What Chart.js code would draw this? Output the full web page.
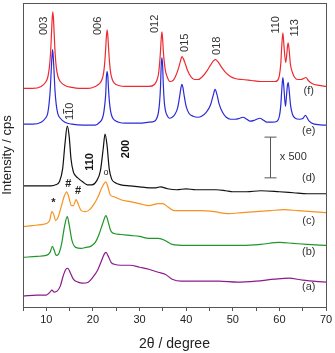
<!DOCTYPE html>
<html>
<head>
<meta charset="utf-8">
<script src="https://cdn.jsdelivr.net/npm/chart.js@4/dist/chart.umd.min.js"></script>
<style>
  html, body { margin: 0; padding: 0; background: #fff; }
  #wrap { width: 335px; height: 353px; position: relative; }
</style>
</head>
<body>
<div id="wrap"><canvas id="xrd"></canvas></div>
<script>
// XRD patterns, stacked with offsets (intensity in arbitrary cps units)

// (f) red
const theta_f = [5,7,8.9,9.8,10.3,10.65,10.9,11.1,11.25,11.4,11.55,11.7,11.9,12.15,12.5,13.0,14,15.5,17,19,20.5,21.45,21.95,22.3,22.55,22.75,22.9,23.05,23.2,23.35,23.55,23.8,24.15,24.65,25.5,27,30,32,33.2,33.7,34.05,34.3,34.5,34.65,34.8,34.95,35.1,35.3,35.55,35.9,36.5,37.2,37.8,38.4,38.8,39.1,39.4,39.8,40.3,41,41.8,42.6,43.5,44.5,45.3,45.9,46.3,46.8,47.5,48.5,49.5,50.5,52,54,56,57.5,59,59.6,60.0,60.3,60.5,60.75,60.95,61.35,61.6,61.85,62.05,62.35,62.8,63.3,63.9,64.6,65.2,65.7,66.2,67,68.5,70];
const int_f   = [220,220,222,226,231,241,255,274,289,297,289,274,255,241,232,227,223,221,220,220,222,225,229,236,247,261,273,279,273,261,247,236,229,225,223,222,222,222,224,228,234,245,258,270,277,270,258,247,238,232,227,228,233,241,248,252,250,245,238,232,229,229,232,238,244,248,249,247,242,236,232,230,229,228,227,227,227,228,233,245,262,276,265,246,255,266,261,245,236,231,229,229,230,231,228,225,223,222];

// (e) blue
const theta_e = [5,7,8.9,9.8,10.3,10.6,10.85,11.05,11.2,11.35,11.5,11.65,11.85,12.1,12.45,13,14,15.5,18,20.5,21.45,21.95,22.3,22.55,22.75,22.9,23.05,23.2,23.35,23.55,23.8,24.15,24.65,25.5,27,30,32,33.2,33.7,34.05,34.3,34.5,34.65,34.8,34.95,35.1,35.3,35.55,35.9,36.4,37.0,37.6,38.2,38.6,38.9,39.1,39.3,39.6,40.0,40.6,41.5,42.5,43.3,44.3,45.2,45.8,46.2,46.6,47.1,47.8,48.6,49.5,50.5,51.5,52.2,53.0,53.7,54.7,55.8,56.6,57.3,58.5,59.5,60.0,60.3,60.5,60.75,60.95,61.3,61.55,61.75,61.9,62.1,62.4,62.8,63.4,64.3,65.1,65.6,65.9,66.4,67.5,70];
const int_e   = [184,184,186,190,195,205,219,238,251,259,251,238,219,205,195,190,186,184,183,183,186,189,195,204,215,232,237,232,219,206,197,191,188,186,185,185,186,187,190,196,206,222,243,251,243,224,207,198,193,190,191,194,201,212,221,224,221,212,202,195,192,191,192,196,203,213,219,214,204,196,191,189,189,190,191,189,187,188,190,188,186,186,187,192,203,218,231,222,202,214,224,226,218,203,194,190,189,190,193,191,187,184,183];

// (d) black
const theta_d = [5,8,11,12,12.8,13.5,14.0,14.5,14.9,15.3,15.8,16.3,17.0,17.8,18.8,19.8,20.8,21.6,22.2,22.6,23.0,23.5,24.0,24.8,26,28,30,32,33.5,34.5,36,38,40,42,44,46.5,48.5,50,53,56,60,63,66,70];
const int_d   = [122,122,122,123,126,139,164,182,172,149,136,132,129,126,123,123,127,137,159,174,164,139,129,125,123,122,121,120,120,121,119,118,119,118,118,118,117,116,116,117,116,115,114,114];

// (c) orange
const theta_c = [5,7,9,10,10.7,11.2,11.6,12.0,12.5,13.2,13.8,14.4,14.8,15.4,15.8,16.4,16.8,17.5,18.4,19.3,20.3,21.2,22,22.8,23.2,23.7,24.5,26,28,30,32,34,35,36,37.5,40,43,46,49,52,55,58,61,64,67,70];
const int_c   = [81,82,83,84,87,96,93,87,90,101,111,116,111,102,102,108,104,97,96,98,104,112,121,126,121,113,111,108,106,104,102,104,104,101,97,97,97,96,94,95,96,97,98,97,96,95];

// (b) green
const theta_b = [5,8,10,10.8,11.3,11.7,12.1,12.6,13.3,13.9,14.5,14.9,15.5,16.3,17.5,18.5,19.5,20.5,21.3,22.1,22.8,23.2,23.8,24.5,26,28,30,32,34,35.5,37,40,44,48,52,56,60,63,66,70];
const int_b   = [50,51,52,55,61,57,52,53,64,81,91,83,67,60,59,60,61,65,73,84,92,87,77,74,73,72,71,69,69,67,63,62,62,62,62,63,65,64,63,62];

// (a) purple
const theta_a = [5,8,10,10.8,11.2,11.7,12.3,13.0,13.6,14.2,14.6,15.1,15.8,16.8,17.8,19,20,21,21.8,22.4,22.8,23.3,23.9,24.6,26,28,30,32,34,35.5,37,39,43,47,51,55,59,62,65,70];
const int_a   = [11,12,12,15,17,15,16,21,31,38,39,35,28,25,24,25,30,37,46,53,55,51,45,43,42,42,40,38,35,33,28,26,26,26,25,26,28,29,27,25];

const xTicks = [10, 20, 30, 40, 50, 60, 70];

// peak labels: [text, 2theta, intensity, bold, barOverMiddle]
const hklLabels = [
  ['003', 9.6, 283, false, false],
  ['006', 21.1, 283, false, false],
  ['012', 33.3, 285, false, false],
  ['015', 39.8, 266, false, false],
  ['018', 46.6, 263, false, false],
  ['110', 59.3, 284, false, false],
  ['113', 63.3, 281, false, false],
  ['110', 15.1, 197, false, true],
  ['110', 19.4, 146, true, false],
  ['200', 27.1, 159, true, false],
];
// phase markers: [symbol, 2theta, intensity]
const markers = [
  ['*', 11.5, 105],
  ['#', 14.7, 124],
  ['#', 16.8, 117],
  ['o', 22.8, 135],
];
const traceNames = ['(f)', '(e)', '(d)', '(c)', '(b)', '(a)'];
const traceNamePos = [217, 177, 130, 87, 55, 20];

function pts(xs, ys) {
  return xs.map((x, i) => ({ x: x, y: ys[i] }));
}

function series(xs, ys, color) {
  return {
    data: pts(xs, ys),
    borderColor: color,
    borderWidth: 1.2,
    pointRadius: 0,
    fill: false,
    cubicInterpolationMode: 'monotone',
  };
}

const FONT = '"Liberation Sans", Arial, sans-serif';

const annotate = {
  id: 'annotate',
  afterDraw(chart) {
    const { ctx, chartArea: a, scales: { x, y } } = chart;
    ctx.save();
    // frame
    ctx.strokeStyle = '#555';
    ctx.lineWidth = 1;
    ctx.strokeRect(a.left + 0.5, a.top + 0.5, a.right - a.left, a.bottom - a.top);

    // hkl labels, rotated
    for (const [t, tx, ty, bold, bar] of hklLabels) {
      ctx.save();
      ctx.translate(x.getPixelForValue(tx), y.getPixelForValue(ty));
      ctx.rotate(-Math.PI / 2);
      ctx.font = (bold ? 'bold ' : '') + '11px ' + FONT;
      ctx.fillStyle = bold ? '#111' : '#333';
      ctx.textAlign = 'center';
      ctx.textBaseline = 'middle';
      ctx.fillText(t, 0, 0);
      if (bar) {
        const w = ctx.measureText(t).width / 3;
        ctx.strokeStyle = '#333';
        ctx.beginPath();
        ctx.moveTo(-w / 2 + 0.5, -6.5);
        ctx.lineTo(w / 2 - 0.5, -6.5);
        ctx.stroke();
      }
      ctx.restore();
    }

    // markers
    ctx.fillStyle = '#222';
    ctx.textAlign = 'center';
    ctx.textBaseline = 'middle';
    for (const [s, mx, my] of markers) {
      ctx.font = (s === 'o' ? '9px ' : 'bold 11px ') + FONT;
      ctx.fillText(s, x.getPixelForValue(mx), y.getPixelForValue(my));
    }

    // trace names
    ctx.font = '11px ' + FONT;
    ctx.fillStyle = '#333';
    traceNames.forEach((n, i) => {
      ctx.fillText(n, x.getPixelForValue(66.3), y.getPixelForValue(traceNamePos[i]));
    });

    // x 500 scale bar
    const bx = Math.round(x.getPixelForValue(58.0)) + 0.5;
    const b1 = y.getPixelForValue(171), b2 = y.getPixelForValue(130);
    ctx.strokeStyle = '#555';
    ctx.beginPath();
    ctx.moveTo(bx, b1); ctx.lineTo(bx, b2);
    ctx.moveTo(bx - 6, b1); ctx.lineTo(bx + 6, b1);
    ctx.moveTo(bx - 6, b2); ctx.lineTo(bx + 6, b2);
    ctx.stroke();
    ctx.textAlign = 'left';
    ctx.font = '11px ' + FONT;
    ctx.fillText('x 500', x.getPixelForValue(60.1), y.getPixelForValue(151));

    // y title
    ctx.save();
    ctx.translate(7, (a.top + a.bottom) / 2);
    ctx.rotate(-Math.PI / 2);
    ctx.font = '13px ' + FONT;
    ctx.fillStyle = '#222';
    ctx.textAlign = 'center';
    ctx.textBaseline = 'middle';
    ctx.fillText('Intensity / cps', 0, 0);
    ctx.restore();

    ctx.restore();
  },
};

new Chart(document.getElementById('xrd'), {
  type: 'line',
  data: {
    datasets: [
      series(theta_f, int_f, '#ee2a2e'),
      series(theta_e, int_e, '#2a2ad8'),
      series(theta_d, int_d, '#111111'),
      series(theta_c, int_c, '#f7911f'),
      series(theta_b, int_b, '#1e9628'),
      series(theta_a, int_a, '#8c1a8c'),
    ],
  },
  options: {
    responsive: true,
    maintainAspectRatio: false,
    animation: false,
    layout: { padding: { left: 23, right: 9, top: 3, bottom: 0 } },
    plugins: { legend: { display: false }, tooltip: { enabled: false } },
    scales: {
      x: {
        type: 'linear',
        min: 5, max: 70,
        border: { color: '#555' },
        grid: { drawOnChartArea: false, tickLength: 4, color: '#555' },
        ticks: {
          stepSize: 5,
          autoSkip: false,
          maxRotation: 0,
          padding: 2,
          color: '#222',
          font: { size: 11, family: FONT },
          callback: v => xTicks.includes(v) ? String(v) : '',
        },
        title: {
          display: true,
          text: '2\u03b8 / degree',
          color: '#222',
          font: { size: 14, family: FONT },
          padding: { top: 8, bottom: 0 },
        },
      },
      y: {
        display: false,
        min: 0, max: 306,
      },
    },
  },
  plugins: [annotate],
});
</script>
</body>
</html>
